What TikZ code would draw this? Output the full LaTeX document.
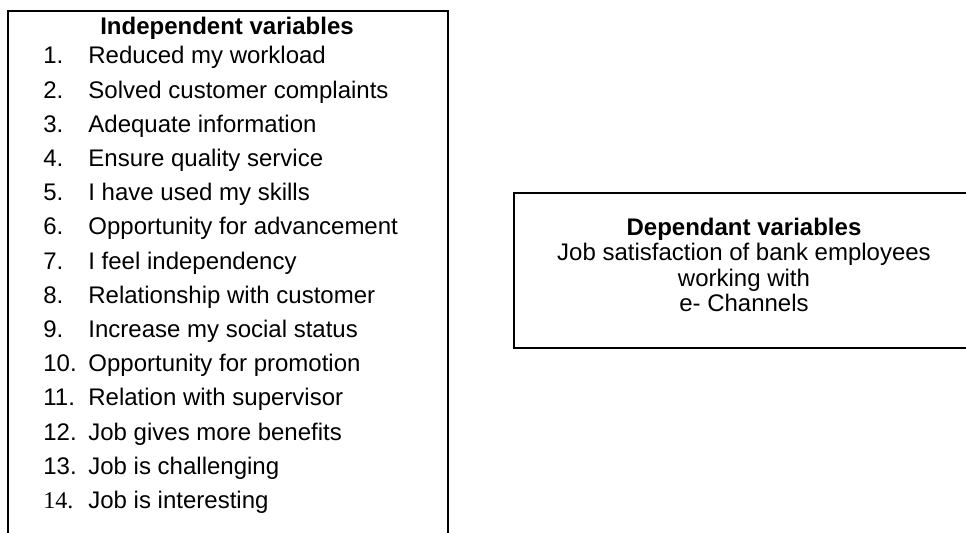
\documentclass[12pt,tikz,border=0pt]{standalone}
\usepackage{fontspec}
\setmainfont{Liberation Sans}
\newfontfamily\numserif{Liberation Serif}
\usetikzlibrary{positioning}

\begin{document}
\begin{tikzpicture}[x=0.5pt, y=-0.5pt,
    framebox/.style={draw, line width=1pt, inner sep=0pt, anchor=north west},
    headtext/.style={font=\bfseries, inner sep=0pt},
    itemnum/.style={anchor=base west, inner sep=0pt},
    itemtext/.style={anchor=base west, inner sep=0pt}
  ]
  \useasboundingbox (0,0) rectangle (966,533);
  \clip (0,0) rectangle (966,533);

  % left frame, open at the bottom of the page
  \node[framebox, minimum width=220pt, minimum height=290pt] (indep) at (7,10) {};
  \node[headtext] (indephead) at (227,28) {Independent variables};
  \foreach \num/\txt [count=\i] in {1./Reduced my workload, 2./Solved customer complaints,
      3./Adequate information, 4./Ensure quality service, 5./I have used my skills,
      6./Opportunity for advancement, 7./I feel independency, 8./Relationship with customer,
      9./Increase my social status, 10./Opportunity for promotion, 11./Relation with supervisor,
      12./Job gives more benefits, 13./Job is challenging, {{\numserif 14.}}/Job is interesting}
  {
    \node[itemnum] (num\i) at (43,{64+34.2*(\i-1)}) {\num};
    \node[itemtext] (item\i) at (88,{64+34.2*(\i-1)}) {\txt};
  }

  % right frame, cut by the page edge
  \node[framebox, minimum width=230pt, minimum height=77.5pt] (dep) at (513,192) {};
  \node[align=center, inner sep=0pt, font=\fontsize{12}{12.6}\selectfont] (deptext)
    at ([yshift=2.75pt]dep.center)
    {\textbf{Dependant variables}\\Job satisfaction of bank employees\\working with\\e- Channels};
\end{tikzpicture}
\end{document}
